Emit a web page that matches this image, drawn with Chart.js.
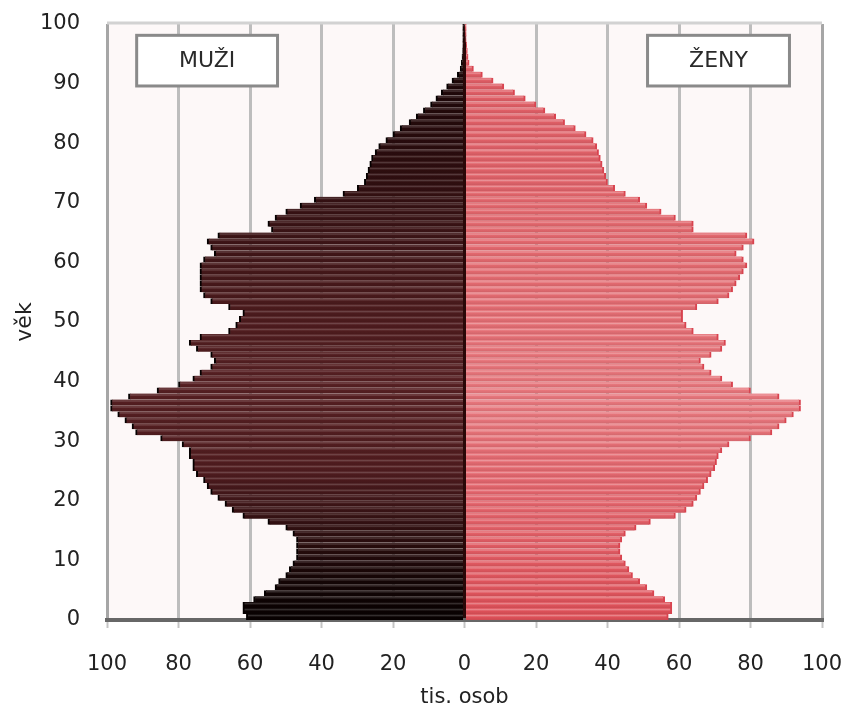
<!DOCTYPE html>
<html>
<head>
<meta charset="utf-8">
<script src="https://cdn.jsdelivr.net/npm/chart.js@4"></script>
<style>
  body { margin: 0; background: #fff; }
  #wrap { width: 843px; height: 710px; }
</style>
</head>
<body>
<div id="wrap"><canvas id="chartPyramida" width="843" height="710"></canvas></div>
<script>
// věk 0..100
const vek = [];
for (let i = 0; i <= 100; i++) vek.push(i);

// muži, tis. osob (věk 0..100)
const muzi = [
  61, 62, 62, 59, 56, 53, 52, 50, 49, 48,
  47, 47, 47, 47, 48, 50, 55, 62, 65, 67,
  69, 71, 72, 73, 75, 76, 76, 77, 77, 79,
  85, 92, 93, 95, 97, 99, 99, 94, 86, 80,
  76, 74, 71, 70, 71, 75, 77, 74, 66, 64,
  63, 62, 66, 71, 73, 74, 74, 74, 74, 74,
  73, 70, 71, 72, 69, 54, 55, 53, 50, 46,
  42, 34, 30, 28, 27.5, 27, 26.5, 26, 25, 24,
  22, 20, 18, 15.5, 13.5, 11.5, 9.5, 8, 6.5, 5,
  3.5, 2, 1.2, 0.9, 0.7, 0.5, 0.4, 0.3, 0.2, 0.15,
  0.1
];

// ženy, tis. osob (věk 0..100)
const zeny = [
  57, 58, 58, 56, 53, 51, 49, 47, 46, 45,
  44, 43.5, 43.5, 44, 45, 48, 52, 59, 62, 64,
  65, 66, 67, 68, 69, 70, 70.5, 71, 72, 74,
  80, 86, 88, 90, 92, 94, 94, 88, 80, 75,
  72, 69, 67, 66, 69, 72, 73, 71, 64, 62,
  61, 61, 65, 71, 74, 75, 76, 77, 78, 79,
  78, 76, 78, 81, 79, 64, 64, 59, 55, 51,
  49, 45, 42, 40, 39.5, 39, 38.5, 38, 37.5, 37,
  36, 34, 31, 28, 25.5, 22.5, 20, 17, 14, 11,
  8, 5, 2.5, 1.3, 1, 0.8, 0.6, 0.4, 0.3, 0.2,
  0.1
];

const osaX = [-100, -80, -60, -40, -20, 0, 20, 40, 60, 80, 100];
const osaY = [0, 10, 20, 30, 40, 50, 60, 70, 80, 90, 100];

// barevné přechody podle věku
const tonMuzi = [[0, [8, 1, 1]], [6, [20, 5, 5]], [15, [48, 15, 16]], [25, [80, 28, 31]], [40, [86, 31, 34]], [55, [72, 25, 27]], [70, [52, 16, 18]], [85, [34, 9, 10]], [100, [22, 5, 5]]];
const tonZeny = [[0, [222, 80, 88]], [20, [226, 98, 106]], [35, [230, 118, 124]], [60, [226, 104, 110]], [90, [222, 92, 100]], [100, [222, 92, 100]]];

function ton(stops, v) {
  for (let i = 1; i < stops.length; i++) {
    if (v <= stops[i][0]) {
      const a = stops[i - 1], b = stops[i];
      const t = (v - a[0]) / (b[0] - a[0]);
      return a[1].map((c, k) => Math.round(c + (b[1][k] - c) * t));
    }
  }
  return stops[stops.length - 1][1];
}

function rgb(c) { return `rgb(${c[0]},${c[1]},${c[2]})`; }
function svetlejsi(c, f) { return c.map(x => Math.round(x + (255 - x) * f)); }

function vypln(stops, svetlo) {
  return ctx => {
    const age = vek[ctx.dataIndex] || 0;
    const base = ton(stops, age);
    const sy = ctx.chart.scales.y;
    if (!sy) return rgb(base);
    const y1 = sy.getPixelForValue(age + 1), y0 = sy.getPixelForValue(age);
    if (!isFinite(y1) || !isFinite(y0) || y0 === y1) return rgb(base);
    const g = ctx.chart.ctx.createLinearGradient(0, y1, 0, y0);
    g.addColorStop(0, rgb(base));
    g.addColorStop(0.25, rgb(svetlejsi(base, svetlo)));
    g.addColorStop(0.5, rgb(base));
    g.addColorStop(1, rgb(base.map(x => Math.round(x * 0.92))));
    return g;
  };
}

const pozadi = {
  id: 'pozadi',
  beforeDraw(chart) {
    const { ctx, chartArea: a } = chart;
    ctx.save();
    ctx.fillStyle = '#fdf8f8';
    ctx.fillRect(a.left, a.top, a.right - a.left, a.bottom - a.top);
    ctx.restore();
  },
  beforeDatasetsDraw(chart) {
    const { ctx, chartArea: a } = chart;
    ctx.save();
    ctx.strokeStyle = '#d2d2d2';
    ctx.lineWidth = 3;
    ctx.beginPath();
    ctx.moveTo(a.left, a.top - 1);
    ctx.lineTo(a.right, a.top - 1);
    ctx.stroke();
    ctx.restore();
  }
};

const popisky = {
  id: 'popisky',
  afterDraw(chart) {
    const { ctx, scales: { x, y } } = chart;
    const boxy = [
      { text: 'MUŽI', x0: -91.7, x1: -52.3 },
      { text: 'ŽENY', x0: 51.2, x1: 90.9 }
    ];
    ctx.save();
    boxy.forEach(b => {
      const l = x.getPixelForValue(b.x0), r = x.getPixelForValue(b.x1);
      const t = y.getPixelForValue(98.1), d = y.getPixelForValue(89.6);
      ctx.fillStyle = '#ffffff';
      ctx.fillRect(l, t, r - l, d - t);
      ctx.strokeStyle = '#8a8a8a';
      ctx.lineWidth = 3;
      ctx.strokeRect(l, t, r - l, d - t);
      ctx.fillStyle = '#2a2a2a';
      ctx.font = '22px "DejaVu Sans"';
      ctx.textAlign = 'center';
      ctx.textBaseline = 'middle';
      ctx.fillText(b.text, (l + r) / 2, (t + d) / 2 + 1);
    });
    ctx.restore();
  }
};

Chart.defaults.font.family = '"DejaVu Sans", sans-serif';
Chart.defaults.color = '#222';

new Chart(document.getElementById('chartPyramida'), {
  type: 'bar',
  data: {
    datasets: [
      {
        label: 'muži',
        data: vek.map((v, i) => ({ x: -muzi[i], y: v + 0.5 })),
        backgroundColor: vypln(tonMuzi, 0.18),
        borderColor: '#050000',
        borderWidth: { left: 2 },
        grouped: false,
        barPercentage: 1,
        categoryPercentage: 1
      },
      {
        label: 'ženy',
        data: vek.map((v, i) => ({ x: zeny[i], y: v + 0.5 })),
        backgroundColor: vypln(tonZeny, 0.3),
        borderColor: '#d8434f',
        borderWidth: { right: 2 },
        grouped: false,
        barPercentage: 1,
        categoryPercentage: 1
      }
    ]
  },
  options: {
    indexAxis: 'y',
    responsive: false,
    animation: false,
    layout: { padding: 0 },
    plugins: { legend: { display: false }, tooltip: { enabled: false } },
    scales: {
      x: {
        type: 'linear',
        min: -100,
        max: 100,
        afterBuildTicks: s => { s.ticks = osaX.map(v => ({ value: v })); },
        afterFit: s => {
          s.height = 90;
          s.paddingLeft = 0;
          s.paddingRight = 21;
        },
        ticks: {
          callback: v => Math.abs(v),
          font: { size: 21 },
          padding: 24,
          maxRotation: 0
        },
        grid: {
          color: c => (c.tick.value === 0 ? '#2a0808' : Math.abs(c.tick.value) === 100 ? '#a6a6a6' : '#bdbdbd'),
          lineWidth: 3,
          tickLength: 8,
          tickColor: '#c4c4c4',
          tickWidth: 2
        },
        border: { display: true, color: '#676767', width: 4 },
        title: {
          display: true,
          text: 'tis. osob',
          font: { size: 21 },
          padding: { top: 0, bottom: 0 }
        }
      },
      y: {
        type: 'linear',
        min: 0,
        max: 100,
        offset: false,
        afterBuildTicks: s => { s.ticks = osaY.map(v => ({ value: v })); },
        afterFit: s => {
          s.width = 107;
          s.paddingTop = 24;
          s.paddingBottom = 0;
        },
        ticks: { font: { size: 21 }, padding: 27 },
        grid: { display: false, drawTicks: false, offset: false },
        border: { display: false },
        title: {
          display: true,
          text: 'věk',
          font: { size: 22 },
          padding: { top: 12, bottom: 0 }
        }
      }
    }
  },
  plugins: [pozadi, popisky]
});
</script>
</body>
</html>
